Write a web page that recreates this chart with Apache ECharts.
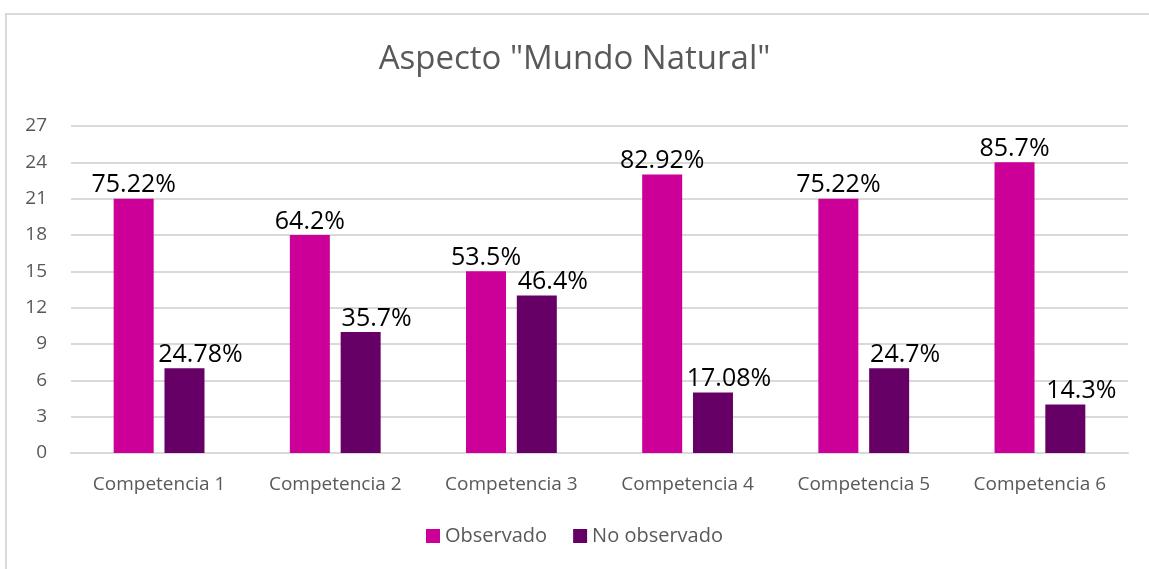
<!DOCTYPE html>
<html>
<head>
<meta charset="utf-8">
<script src="https://cdn.jsdelivr.net/npm/echarts@6/dist/echarts.min.js"></script>
<style>
  html, body { margin: 0; padding: 0; background: #fff; }
  #wrap { position: relative; width: 1149px; height: 569px; overflow: hidden; }
  #frame { position: absolute; left: 5px; top: 13px; right: -10px; bottom: -10px; border: 2px solid #d9d9d9; }
  #chart { position: absolute; left: 0; top: 0; width: 1149px; height: 569px; }
</style>
</head>
<body>
<div id="wrap">
  <div id="frame"></div>
  <div id="chart"></div>
</div>
<script>
  // chart data
  const categories = ['Competencia 1', 'Competencia 2', 'Competencia 3', 'Competencia 4', 'Competencia 5', 'Competencia 6']
  const observado = [21, 18, 15, 23, 21, 24]
  const noObservado = [7, 10, 13, 5, 7, 4]
  const observadoLabels = ['75.22%', '64.2%', '53.5%', '82.92%', '75.22%', '85.7%']
  const noObservadoLabels = ['24.78%', '35.7%', '46.4%', '17.08%', '24.7%', '14.3%']
  const yTicks = [0, 3, 6, 9, 12, 15, 18, 21, 24, 27]

  const font = '"Open Sans", "Liberation Sans", sans-serif'
  const chart = echarts.init(document.getElementById('chart'))

  chart.setOption({
    animation: false,
    textStyle: { fontFamily: font },
    title: {
      text: 'Aspecto "Mundo Natural"',
      left: 'center',
      top: 38,
      textStyle: { fontFamily: font, fontSize: 33, fontWeight: 'normal', color: '#595959' }
    },
    legend: {
      bottom: 18,
      left: 'center',
      itemWidth: 14,
      itemHeight: 14,
      itemGap: 26,
      icon: 'rect',
      textStyle: { fontFamily: font, fontSize: 20, color: '#595959' },
      data: ['Observado', 'No observado']
    },
    grid: { left: 71, right: 21, top: 126, bottom: 116 },
    xAxis: {
      type: 'category',
      data: categories,
      axisTick: { show: false },
      axisLine: { lineStyle: { color: '#d9d9d9', width: 2 } },
      axisLabel: { interval: 0, fontFamily: font, fontSize: 19, color: '#595959', margin: 22 }
    },
    yAxis: {
      type: 'value',
      min: yTicks[0],
      max: yTicks[yTicks.length - 1],
      interval: 3,
      axisLine: { show: false },
      axisTick: { show: false },
      splitLine: { lineStyle: { color: '#d9d9d9', width: 2 } },
      axisLabel: { fontFamily: font, fontSize: 19, color: '#595959', margin: 24, align: 'right' }
    },
    series: [
      {
        name: 'Observado',
        type: 'bar',
        barWidth: 40,
        barGap: '27%',
        itemStyle: { color: '#cc0099' },
        label: {
          show: true,
          position: 'top',
          distance: 1,
          fontFamily: font,
          fontSize: 25,
          color: '#000',
          formatter: p => observadoLabels[p.dataIndex]
        },
        data: observado
      },
      {
        name: 'No observado',
        type: 'bar',
        barWidth: 40,
        itemStyle: { color: '#660066' },
        label: {
          show: true,
          position: 'top',
          distance: 1,
          offset: [16, 0],
          fontFamily: font,
          fontSize: 25,
          color: '#000',
          formatter: p => noObservadoLabels[p.dataIndex]
        },
        data: noObservado
      }
    ]
  })
</script>
</body>
</html>
